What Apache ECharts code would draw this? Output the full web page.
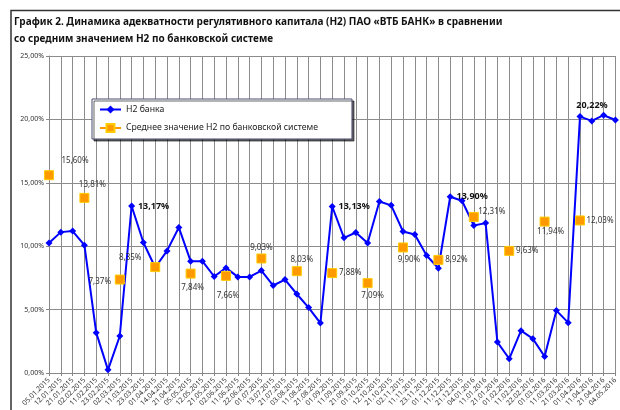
<!DOCTYPE html>
<html>
<head>
<meta charset="utf-8">
<script src="https://cdn.jsdelivr.net/npm/echarts@6/dist/echarts.min.js"></script>
<style>
  html, body { margin: 0; padding: 0; background: #fff; overflow: hidden; }
  #container { width: 620px; height: 410px; }
</style>
</head>
<body>
<div id="container"></div>
<script>
// даты отчётов
var dates = [
  '05.01.2015', '12.01.2015', '21.01.2015', '02.02.2015', '11.02.2015', '23.02.2015',
  '02.03.2015', '11.03.2015', '23.03.2015', '01.04.2015', '14.04.2015', '21.04.2015',
  '05.05.2015', '12.05.2015', '21.05.2015', '02.06.2015', '11.06.2015', '22.06.2015',
  '01.07.2015', '13.07.2015', '21.07.2015', '03.08.2015', '11.08.2015', '21.08.2015',
  '01.09.2015', '11.09.2015', '21.09.2015', '01.10.2015', '12.10.2015', '21.10.2015',
  '02.11.2015', '11.11.2015', '23.11.2015', '01.12.2015', '11.12.2015', '21.12.2015',
  '04.01.2016', '11.01.2016', '21.01.2016', '01.02.2016', '11.02.2016', '22.02.2016',
  '01.03.2016', '11.03.2016', '21.03.2016', '01.04.2016', '11.04.2016', '21.04.2016',
  '04.05.2016'
];
// Н2 банка, %
var h2Bank = [
  10.26, 11.11, 11.19, 10.08, 3.18, 0.25,
  2.92, 13.17, 10.29, 8.32, 9.63, 11.48,
  8.82, 8.82, 7.61, 8.29, 7.58, 7.58,
  8.08, 6.90, 7.37, 6.23, 5.16, 3.94,
  13.13, 10.66, 11.08, 10.26, 13.53, 13.22,
  11.16, 10.92, 9.27, 8.26, 13.90, 13.58,
  11.63, 11.82, 2.44, 1.12, 3.34, 2.71,
  1.30, 4.92, 3.97, 20.22, 19.88, 20.33,
  19.95
];
// среднее значение Н2 по банковской системе, %
var h2Avg = [
  15.60, null, null, 13.81, null, null,
  7.37, null, null, 8.35, null, null,
  7.84, null, null, 7.66, null, null,
  9.03, null, null, 8.03, null, null,
  7.88, null, null, 7.09, null, null,
  9.90, null, null, 8.92, null, null,
  12.31, null, null, 9.63, null, null,
  11.94, null, null, 12.03, null, null,
  null
];
var yTicks = [0, 5, 10, 15, 20, 25];

var FONT = 'Noto Sans, sans-serif';

function pct(v) {
  return v.toFixed(2).replace('.', ',') + '%';
}

// смещения подписей относительно точек
var bankLabelOffsets = { 7: [22, 0], 24: [22, 0], 34: [22, 0], 45: [12, -11] };
var avgLabelOffsets = {
  0: [26, -14], 3: [8, -13], 6: [-20, 2], 9: [-25, -9], 12: [2, 14], 15: [2, 20],
  18: [0, -11], 21: [5, -11], 24: [18, 0], 27: [5, 13], 30: [6, 12], 33: [18, 0],
  36: [18, -5], 39: [18, 0], 42: [6, 10], 45: [20, 0]
};

var bankData = h2Bank.map(function (v, i) {
  var item = { value: v };
  if (bankLabelOffsets[i]) {
    item.label = {
      show: true, position: 'inside', offset: bankLabelOffsets[i],
      formatter: function (p) { return pct(p.value); },
      fontSize: 9, fontWeight: 'bold', color: '#111', fontFamily: FONT
    };
  }
  return item;
});
var avgData = h2Avg.map(function (v, i) {
  if (v === null) return '-';
  return {
    value: v,
    label: {
      show: true, position: 'inside', offset: avgLabelOffsets[i] || [18, 0],
      formatter: function (p) { return pct(p.value); },
      fontSize: 8, color: '#333', fontFamily: FONT
    }
  };
});

var dom = document.getElementById('container');
var myChart = echarts.init(dom, null, { renderer: 'canvas' });
var option = {
  animation: false,
  backgroundColor: '#fff',
  textStyle: { fontFamily: FONT },
  title: {
    text: 'График 2. Динамика адекватности регулятивного капитала (Н2) ПАО «ВТБ БАНК» в сравнении\nсо средним значением Н2 по банковской системе',
    left: 9,
    top: 9,
    textStyle: {
      fontSize: 10, fontWeight: 'bold', color: '#111', lineHeight: 17, fontFamily: FONT
    }
  },
  graphic: [
    {
      type: 'polyline',
      shape: { points: [[11, 410], [11, 10.5], [620, 10.5]] },
      style: { stroke: '#333', lineWidth: 1.5, fill: null },
      silent: true
    }
  ],
  legend: {
    orient: 'vertical',
    left: 92,
    top: 99,
    padding: [6, 34, 6, 7],
    itemGap: 9,
    itemWidth: 21,
    itemHeight: 10,
    backgroundColor: '#fff',
    borderColor: '#4a4a70',
    borderWidth: 1,
    shadowColor: 'rgba(0,0,0,0.6)',
    shadowOffsetX: 2,
    shadowOffsetY: 2,
    shadowBlur: 0,
    textStyle: { fontSize: 8.7, color: '#222', fontFamily: FONT },
    data: ['Н2 банка', 'Среднее значение Н2 по банковской системе']
  },
  grid: { left: 49, right: -3, top: 56, bottom: 37, containLabel: false },
  xAxis: {
    type: 'category',
    data: dates,
    boundaryGap: false,
    axisLine: { lineStyle: { color: '#888', width: 1.2 } },
    axisTick: { show: true, length: 3, lineStyle: { color: '#888' } },
    axisLabel: {
      interval: 0, rotate: 45, fontSize: 7, color: '#333', margin: 6, fontFamily: FONT
    },
    splitLine: { show: true, interval: 0, lineStyle: { color: '#8c8c8c', width: 1 } }
  },
  yAxis: {
    type: 'value',
    min: yTicks[0],
    max: yTicks[yTicks.length - 1],
    interval: 5,
    axisLine: { show: true, lineStyle: { color: '#888' } },
    axisTick: { show: true, length: 3, lineStyle: { color: '#888' } },
    axisLabel: {
      fontSize: 7, color: '#333', margin: 5,
      formatter: function (v) { return pct(v); },
      fontFamily: FONT
    },
    splitLine: { lineStyle: { color: '#8c8c8c', width: 1 } }
  },
  series: [
    {
      name: 'Н2 банка',
      type: 'line',
      data: bankData,
      symbol: 'diamond',
      symbolSize: 7,
      itemStyle: { color: '#0000ff' },
      lineStyle: { color: '#0000ff', width: 2 },
      z: 3
    },
    {
      name: 'Среднее значение Н2 по банковской системе',
      type: 'line',
      data: avgData,
      connectNulls: false,
      symbol: 'rect',
      symbolSize: 9,
      itemStyle: { color: '#ff9900', borderColor: '#ffcc00', borderWidth: 1 },
      lineStyle: { color: '#ff9900', width: 2 },
      z: 4
    }
  ]
};
if (option && typeof option === 'object') {
  myChart.setOption(option, true);
}
</script>
</body>
</html>
